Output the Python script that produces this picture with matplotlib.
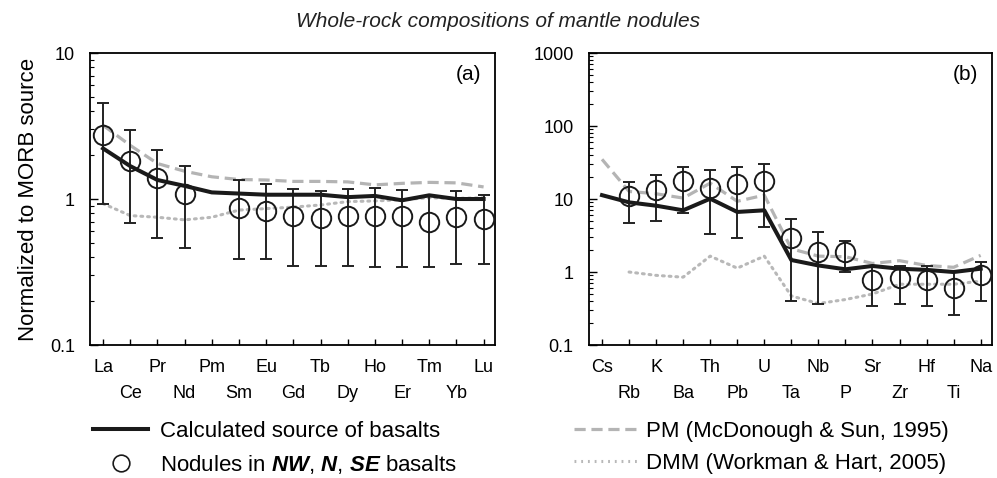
import matplotlib
matplotlib.use("Agg")
from matplotlib import pyplot as plt
from matplotlib.lines import Line2D
import numpy as np

plt.rcParams['font.family'] = ['Liberation Sans', 'DejaVu Sans']
plt.rcParams['mathtext.fontset'] = 'custom'
plt.rcParams['mathtext.rm'] = 'Liberation Sans'
plt.rcParams['mathtext.it'] = 'Liberation Sans:italic'
plt.rcParams['mathtext.bf'] = 'Liberation Sans:bold:italic'

# panel (a): REE
ree = ['La', 'Ce', 'Pr', 'Nd', 'Pm', 'Sm', 'Eu', 'Gd', 'Tb', 'Dy', 'Ho', 'Er', 'Tm', 'Yb', 'Lu']
ree_source = [2.22, 1.68, 1.35, 1.23, 1.11, 1.09, 1.07, 1.07, 1.07, 1.03, 1.05, 0.98, 1.06, 1.0, 1.0]
ree_pm = [3.2, 2.33, 1.75, 1.55, 1.42, 1.36, 1.35, 1.32, 1.32, 1.31, 1.25, 1.28, 1.30, 1.29, 1.21]
ree_dmm = [0.93, 0.77, 0.75, 0.72, 0.75, 0.84, 0.86, 0.88, 0.91, 0.96, 0.97, 0.99, 1.02, 1.01, 1.02]
ree_nod = [2.73, 1.81, 1.40, 1.09, np.nan, 0.87, 0.83, 0.77, 0.74, 0.77, 0.77, 0.77, 0.70, 0.75, 0.73]
ree_hi = [4.55, 2.96, 2.15, 1.69, np.nan, 1.36, 1.26, 1.17, 1.14, 1.18, 1.19, 1.16, 1.05, 1.14, 1.07]
ree_lo = [0.92, 0.68, 0.54, 0.46, np.nan, 0.39, 0.39, 0.35, 0.35, 0.35, 0.34, 0.34, 0.34, 0.36, 0.36]

# panel (b): trace elements
tr = ['Cs', 'Rb', 'K', 'Ba', 'Th', 'Pb', 'U', 'Ta', 'Nb', 'P', 'Sr', 'Zr', 'Hf', 'Ti', 'Na']
tr_source = [11.3, 9.0, 8.1, 7.0, 10.1, 6.65, 7.0, 1.46, 1.23, 1.09, 1.21, 1.11, 1.07, 1.0, 1.11]
tr_pm = [35, 12.7, 11.8, 10.3, 16.5, 9.3, 11.3, 2.08, 1.65, 1.62, 1.31, 1.43, 1.23, 1.16, 1.69]
tr_dmm = [np.nan, 1.0, 0.90, 0.85, 1.65, 1.13, 1.65, 0.47, 0.37, 0.42, 0.50, 0.68, 0.68, 0.68, 0.75]
tr_nod = [np.nan, 11.1, 13.4, 17.6, 14.3, 16.0, 17.6, 2.91, 1.91, 1.91, 0.78, 0.82, 0.78, 0.60, 0.90]
tr_hi = [np.nan, 17.0, 21.0, 27.6, 24.9, 27.6, 30.6, 5.3, 3.5, 2.7, 1.21, 1.21, 1.21, 1.0, 1.37]
tr_lo = [np.nan, 4.66, 5.0, 6.4, 3.33, 2.97, 4.1, 0.40, 0.36, 1.0, 0.34, 0.36, 0.34, 0.26, 0.40]

fs = 13
fig = plt.figure(figsize=(9.97, 4.78), dpi=100)
ax1 = fig.add_axes([0.0903, 0.2782, 0.4062, 0.6109])
ax2 = fig.add_axes([0.5908, 0.2782, 0.4042, 0.6109])


def draw(ax, names, src, pm, dmm, nod, hi, lo, ylim, yticks, tag):
    x = np.arange(len(names))
    nod = np.array(nod)
    err = [nod - np.array(lo), np.array(hi) - nod]
    ax.plot(x, pm, color='#b4b4b4', lw=2.3, ls=(0, (3.5, 1.8)), zorder=2)
    ax.plot(x, dmm, color='#b8b8b8', lw=2.2, ls=(0, (0.6, 1.6)), dash_capstyle='round', zorder=2)
    ax.errorbar(x, nod, yerr=err, fmt='none', ecolor='#222222', elinewidth=1.4,
                capsize=4, capthick=1.4, zorder=3)
    ax.plot(x, src, color='#1a1a1a', lw=2.9, zorder=4)
    ax.plot(x, nod, 'o', ms=14, mfc='none', mec='#1a1a1a', mew=1.4, zorder=5)
    ax.set_yscale('log')
    ax.set_ylim(*ylim)
    ax.set_xlim(-0.48, 14.42)
    ax.set_yticks(yticks)
    ax.set_yticklabels([('%g' % v) for v in yticks])
    ax.set_xticks(x)
    ax.set_xticklabels([n if i % 2 == 0 else '\n' + n for i, n in enumerate(names)],
                       fontsize=fs, linespacing=1.7)
    ax.tick_params(axis='y', which='major', direction='in', length=6, width=1, labelsize=fs, pad=11)
    ax.tick_params(axis='y', which='minor', direction='in', length=3, width=0.8)
    ax.tick_params(axis='x', direction='in', length=4, width=1, pad=10)
    for s in ax.spines.values():
        s.set_linewidth(1.3)
    ax.text(0.965, 0.925, tag, transform=ax.transAxes, ha='right', va='center', fontsize=15)


draw(ax1, ree, ree_source, ree_pm, ree_dmm, ree_nod, ree_hi, ree_lo, (0.1, 10), [0.1, 1, 10], '(a)')
draw(ax2, tr, tr_source, tr_pm, tr_dmm, tr_nod, tr_hi, tr_lo, (0.1, 1000), [0.1, 1, 10, 100, 1000], '(b)')

ax1.set_ylabel('Normalized to MORB source', fontsize=16, labelpad=8)

fig.text(0.5, 0.954, 'Whole-rock compositions of mantle nodules', ha='center', va='center',
         fontsize=15, style='italic', color='#222222')

# legends
h_src = Line2D([], [], color='#1a1a1a', lw=2.9)
h_nod = Line2D([], [], ls='none', marker='o', ms=12, mfc='none', mec='#1a1a1a', mew=1.2)
h_pm = Line2D([], [], color='#b4b4b4', lw=2.3, ls=(0, (3.5, 1.8)))
h_dmm = Line2D([], [], color='#b8b8b8', lw=2.2, ls=(0, (0.6, 1.6)))
fig.legend([h_src, h_nod], ['Calculated source of basalts',
                            r'Nodules in $\mathbf{NW}$, $\mathbf{N}$, $\mathbf{SE}$ basalts'],
           loc='upper left', bbox_to_anchor=(0.082, 0.142), frameon=False, fontsize=16,
           handlelength=2.5, labelspacing=0.49, handletextpad=0.54, borderpad=0)
fig.legend([h_pm, h_dmm], ['PM (McDonough & Sun, 1995)', 'DMM (Workman & Hart, 2005)'],
           loc='upper left', bbox_to_anchor=(0.565, 0.142), frameon=False, fontsize=16,
           handlelength=2.8, labelspacing=0.49, handletextpad=0.4, borderpad=0)

fig.savefig('out.png', dpi=100)
